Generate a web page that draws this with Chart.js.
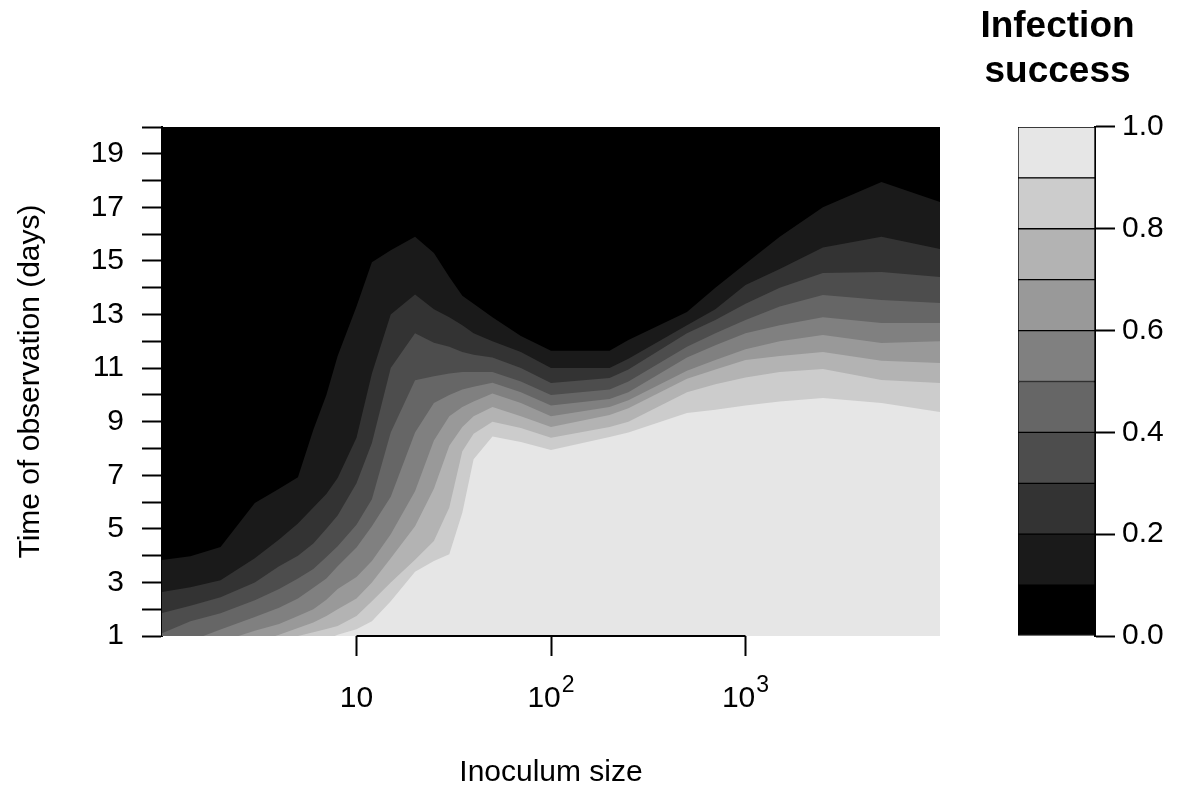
<!DOCTYPE html>
<html>
<head>
<meta charset="utf-8">
<script src="https://cdn.jsdelivr.net/npm/chart.js@4.4.1/dist/chart.umd.min.js"></script>
<style>
  html, body { margin: 0; padding: 0; background: #fff; }
  #wrap { position: relative; width: 1195px; height: 786px; }
  #plot { position: absolute; left: 0; top: 0; }
  #key { position: absolute; left: 940px; top: 0; }
</style>
</head>
<body>
<div id="wrap">
  <canvas id="plot" width="950" height="786"></canvas>
  <canvas id="key" width="235" height="786"></canvas>
</div>
<script>
// inoculum sizes where the contour boundaries were read
const inoculum = [1, 1.4, 2, 3, 4, 5, 6, 7, 8, 10, 12, 15, 20, 25, 30, 35, 40, 50, 70,
  100, 200, 250, 500, 700, 1000, 1500, 2500, 5000, 10000];

// time (days) at which infection success falls to each level
const levels = [0.1, 0.2, 0.3, 0.4, 0.5, 0.6, 0.7, 0.8, 0.9];
const time10 = [3.84, 3.98, 4.32, 5.96, 6.5, 6.93, 8.7, 10.0, 11.45, 13.3, 14.95, 15.4, 15.9, 15.3, 14.4, 13.7, 13.4, 12.9, 12.2,
  11.65, 11.65, 12.05, 13.09, 14.0, 14.9, 15.9, 17.0, 17.95, 17.2];
const time20 = [2.64, 2.82, 3.08, 3.9, 4.6, 5.2, 5.8, 6.3, 6.9, 8.4, 10.8, 13.0, 13.75, 13.2, 12.9, 12.6, 12.3, 12.0, 11.6,
  11.0, 11.0, 11.35, 12.6, 13.2, 14.1, 14.7, 15.5, 15.9, 15.45];
const time30 = [1.86, 2.13, 2.45, 3.0, 3.6, 4.0, 4.45, 5.0, 5.5, 6.7, 8.2, 11.0, 12.3, 11.95, 11.8, 11.6, 11.5, 11.4, 11.0,
  10.44, 10.63, 10.95, 12.3, 12.8, 13.4, 14.0, 14.55, 14.59, 14.4];
const time40 = [1.1, 1.55, 1.85, 2.33, 2.75, 3.15, 3.5, 3.95, 4.35, 5.15, 6.1, 8.6, 10.55, 10.7, 10.8, 10.85, 10.85, 10.85, 10.5,
  10.0, 10.2, 10.5, 11.8, 12.3, 12.8, 13.3, 13.73, 13.54, 13.43];
const time50 = [0.42, 0.82, 1.24, 1.71, 2.05, 2.4, 2.8, 3.15, 3.6, 4.3, 5.1, 6.2, 8.6, 9.7, 10.0, 10.2, 10.3, 10.45, 10.1,
  9.6, 9.85, 10.1, 11.4, 11.85, 12.3, 12.6, 12.9, 12.68, 12.68];
const time60 = [0.05, 0.41, 0.78, 1.2, 1.45, 1.75, 2.0, 2.35, 2.75, 3.2, 3.8, 4.8, 6.4, 8.3, 9.2, 9.55, 9.75, 10.05, 9.7,
  9.2, 9.55, 9.8, 10.9, 11.3, 11.7, 12.0, 12.24, 11.94, 12.0];
const time70 = [-0.5, -0.13, 0.27, 0.74, 1.05, 1.3, 1.5, 1.75, 2.0, 2.4, 3.0, 3.9, 5.1, 6.5, 8.1, 8.8, 9.2, 9.55, 9.2,
  8.8, 9.25, 9.5, 10.6, 10.95, 11.3, 11.45, 11.6, 11.27, 11.19];
const time80 = [-1.0, -0.6, -0.2, 0.3, 0.7, 1.0, 1.14, 1.26, 1.37, 1.75, 2.3, 3.0, 3.85, 4.55, 5.8, 7.9, 8.55, 9.0, 8.76,
  8.4, 8.8, 9.0, 10.1, 10.4, 10.65, 10.85, 10.97, 10.56, 10.44];
const time90 = [-1.8, -1.4, -1.0, -0.5, -0.1, 0.25, 0.55, 0.85, 1.05, 1.25, 1.55, 2.3, 3.4, 3.8, 4.05, 5.6, 7.6, 8.45, 8.24,
  7.94, 8.43, 8.6, 9.32, 9.45, 9.6, 9.75, 9.88, 9.7, 9.36];
const boundaries = [time10, time20, time30, time40, time50, time60, time70, time80, time90];

// axis ticks
const inoculumTicks = [10, 100, 1000];
const inoculumBase = ["10", "10", "10"];
const inoculumPower = ["", "2", "3"];
const keyBreaks = [0, 0.1, 0.2, 0.3, 0.4, 0.5, 0.6, 0.7, 0.8, 0.9, 1.0];
const keyTicks = [0, 0.2, 0.4, 0.6, 0.8, 1.0];

const FONT = "'Liberation Sans', Arial, Helvetica, sans-serif";
const grey = (v) => {
  const c = Math.round(v * 255);
  return `rgb(${c},${c},${c})`;
};

// black panel behind the filled bands (success below 0.1)
const panelBackground = {
  id: "panelBackground",
  beforeDatasetsDraw(chart) {
    const { ctx, chartArea: a } = chart;
    ctx.save();
    ctx.fillStyle = grey(0);
    ctx.fillRect(a.left, a.top, a.right - a.left, a.bottom - a.top);
    ctx.restore();
  },
};

// R style x axis: line only between first and last tick, labels as powers of ten
const inoculumAxis = {
  id: "inoculumAxis",
  afterDraw(chart) {
    const { ctx, chartArea: a } = chart;
    const xs = chart.scales.x;
    ctx.save();
    ctx.strokeStyle = "#000";
    ctx.lineWidth = 2;
    ctx.beginPath();
    ctx.moveTo(xs.getPixelForValue(inoculumTicks[0]), a.bottom);
    ctx.lineTo(xs.getPixelForValue(inoculumTicks[inoculumTicks.length - 1]), a.bottom);
    ctx.stroke();

    ctx.fillStyle = "#000";
    ctx.textAlign = "left";
    ctx.textBaseline = "alphabetic";
    const baseline = a.bottom + 71;
    inoculumTicks.forEach((v, i) => {
      ctx.font = `30px ${FONT}`;
      const wb = ctx.measureText(inoculumBase[i]).width;
      ctx.font = `23px ${FONT}`;
      const wp = inoculumPower[i] ? ctx.measureText(inoculumPower[i]).width + 1 : 0;
      const x0 = xs.getPixelForValue(v) - (wb + wp) / 2;
      ctx.font = `30px ${FONT}`;
      ctx.fillText(inoculumBase[i], x0, baseline);
      if (inoculumPower[i]) {
        ctx.font = `23px ${FONT}`;
        ctx.fillText(inoculumPower[i], x0 + wb + 1, baseline - 15);
      }
    });
    ctx.restore();
  },
};

// lightest band first so it is painted on top
const bands = levels
  .map((lvl, i) => ({
    label: "success >= " + lvl,
    data: inoculum.map((x, j) => ({ x: x, y: boundaries[i][j] })),
    fill: "start",
    backgroundColor: grey(lvl),
    borderColor: "rgba(0,0,0,0)",
    borderWidth: 0,
    pointRadius: 0,
    pointHoverRadius: 0,
    tension: 0,
  }))
  .reverse();

const plot = new Chart(document.getElementById("plot").getContext("2d"), {
  type: "line",
  data: { datasets: bands },
  options: {
    responsive: false,
    devicePixelRatio: 1,
    animation: false,
    events: [],
    layout: { padding: { top: 127, right: 10, left: 0, bottom: 0 } },
    plugins: { legend: { display: false }, tooltip: { enabled: false } },
    scales: {
      x: {
        type: "logarithmic",
        min: 1,
        max: 10000,
        afterBuildTicks: (scale) => {
          scale.ticks = inoculumTicks.map((v) => ({ value: v }));
        },
        afterFit: (scale) => {
          scale.height = 150;
        },
        border: { display: false },
        grid: { drawOnChartArea: false, drawTicks: true, tickLength: 20, tickWidth: 2, tickColor: "#000" },
        ticks: { display: false, autoSkip: false },
        title: {
          display: true,
          text: "Inoculum size",
          color: "#000",
          font: { family: FONT, size: 30, lineHeight: 0.9 },
          padding: { top: 0, bottom: 0 },
        },
      },
      y: {
        type: "linear",
        min: 1,
        max: 20,
        afterFit: (scale) => {
          scale.width = 162;
        },
        border: { display: true, color: "#000", width: 2 },
        grid: { drawOnChartArea: false, drawTicks: true, tickLength: 20, tickWidth: 2, tickColor: "#000" },
        ticks: {
          stepSize: 1,
          autoSkip: false,
          padding: 18,
          color: "#000",
          font: { family: FONT, size: 30 },
          callback: (v) => (v % 2 === 1 ? String(v) : ""),
        },
        title: {
          display: true,
          text: "Time of observation (days)",
          color: "#000",
          font: { family: FONT, size: 30, lineHeight: 1 },
          padding: { top: 16, bottom: 0 },
        },
      },
    },
  },
  plugins: [panelBackground, inoculumAxis],
});

// colour key
const keyBars = keyBreaks.slice(0, -1).map((lo, i) => ({
  label: lo + "-" + keyBreaks[i + 1],
  data: [[lo, keyBreaks[i + 1]]],
  yAxisID: "y",
  backgroundColor: grey(lo),
  borderColor: "#000",
  borderWidth: 1,
  borderSkipped: false,
  grouped: false,
  barPercentage: 1,
  categoryPercentage: 1,
}));

const key = new Chart(document.getElementById("key").getContext("2d"), {
  type: "bar",
  data: { labels: ["key"], datasets: keyBars },
  options: {
    responsive: false,
    devicePixelRatio: 1,
    animation: false,
    events: [],
    layout: { padding: { top: 0, right: 0, left: 0, bottom: 150 } },
    plugins: {
      legend: { display: false },
      tooltip: { enabled: false },
      title: {
        display: true,
        text: ["Infection", "success"],
        color: "#000",
        font: { family: FONT, size: 37, weight: "bold", lineHeight: 1.216 },
        padding: { top: 4.5, bottom: 32.5 },
      },
    },
    scales: {
      x: { display: false },
      y: {
        position: "right",
        min: 0,
        max: 1,
        afterBuildTicks: (scale) => {
          scale.ticks = keyTicks.map((v) => ({ value: v }));
        },
        afterFit: (scale) => {
          scale.width = 80;
        },
        border: { display: true, color: "#000", width: 2 },
        grid: { drawOnChartArea: false, drawTicks: true, tickLength: 20, tickWidth: 2, tickColor: "#000" },
        ticks: {
          autoSkip: false,
          padding: 7,
          color: "#000",
          font: { family: FONT, size: 30 },
          callback: (v) => v.toFixed(1),
        },
      },
      // empty left gutter so the key title stays centred over the bar
      gutter: {
        type: "linear",
        position: "left",
        grid: { display: false },
        border: { display: false },
        ticks: { display: false },
        afterFit: (scale) => {
          scale.width = 78;
        },
      },
    },
  },
});
</script>
</body>
</html>
